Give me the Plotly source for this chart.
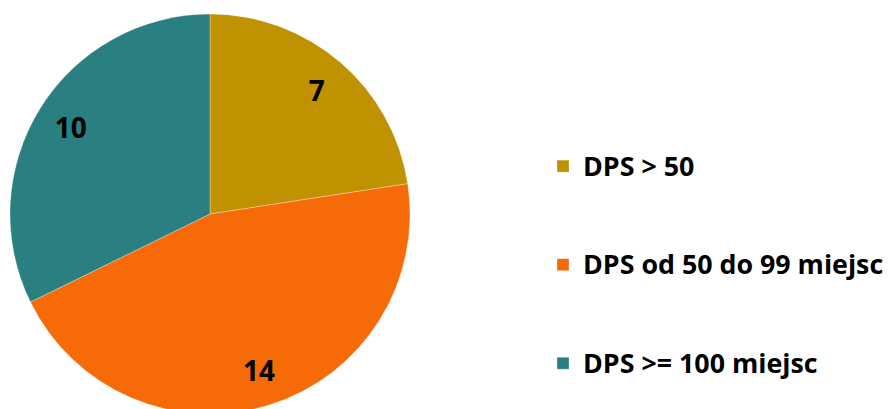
import plotly.graph_objects as go

categories = ["DPS > 50", "DPS od 50 do 99 miejsc", "DPS >= 100 miejsc"]
values = [7, 14, 10]
colors = ["#C09100", "#F76A08", "#2A8080"]

W, H = 892, 409
LEG_FS = 24.5   # governs legend line spacing
LABEL_FS = 26.8   # visible legend text size

legend_labels = ["<br><br><span style='font-size:%.1fpx'>%s</span>" % (LABEL_FS, c) for c in categories]
domain = dict(x=[2 / W, 402 / W], y=[3 / H, 1 - 6 / H])

fig = go.Figure()
fig.add_trace(
    go.Pie(
        labels=legend_labels,
        values=values,
        sort=False,
        direction="clockwise",
        rotation=0,
        marker=dict(colors=colors, line=dict(color="rgba(255,255,255,0.6)", width=0.5)),
        textinfo="none",
        hoverinfo="skip",
        domain=domain,
        showlegend=True,
    )
)
# transparent ring carrying the value labels at ~0.82 of the radius
fig.add_trace(
    go.Pie(
        labels=legend_labels,
        values=values,
        sort=False,
        direction="clockwise",
        rotation=0,
        hole=0.64,
        marker=dict(colors=["rgba(0,0,0,0)"] * len(values), line=dict(width=0)),
        textinfo="value",
        textposition="inside",
        insidetextorientation="horizontal",
        textfont=dict(family="Open Sans", size=28, color="black", weight="bold"),
        hoverinfo="skip",
        domain=domain,
        showlegend=False,
    )
)

fig.update_layout(
    width=W,
    height=H,
    margin=dict(l=0, r=0, t=0, b=0),
    paper_bgcolor="white",
    plot_bgcolor="white",
    legend=dict(
        x=535 / W,
        xanchor="left",
        y=1 - 72 / H,
        yanchor="top",
        valign="bottom",
        font=dict(family="Open Sans", size=LEG_FS, color="black", weight="bold"),
        bgcolor="rgba(0,0,0,0)",
    ),
)

fig.write_html("out.html")
